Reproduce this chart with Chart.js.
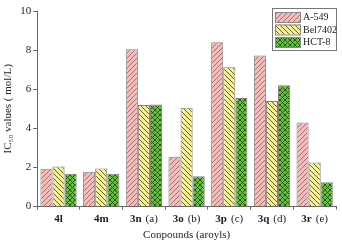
<!DOCTYPE html>
<html><head><meta charset="utf-8">
<script src="https://cdn.jsdelivr.net/npm/chart.js@4/dist/chart.umd.min.js"></script>
<style>html,body{margin:0;padding:0;background:#fff}#wrap{width:342px;height:246px}</style>
</head><body><div id="wrap"><canvas id="c" width="342" height="246"></canvas></div>
<script>
const compoundIds = ['4l','4m','3n','3o','3p','3q','3r'];
const aroylLetters = ['', '', '(a)', '(b)', '(c)', '(d)', '(e)'];
const categories = compoundIds.map((c,i)=> aroylLetters[i] ? c + ' ' + aroylLetters[i] : c);
const seriesNames = ['A-549','Bel7402','HCT-8'];
const a549 = [1.93, 1.78, 8.05, 2.55, 8.4, 7.72, 4.3];
const bel7402 = [2.05, 1.95, 5.2, 5.05, 7.12, 5.4, 2.25];
const hct8 = [1.68, 1.68, 5.22, 1.55, 5.55, 6.2, 1.25];
const yTicks = [0,2,4,6,8,10];

const SERIF = '"Liberation Serif", "Times New Roman", serif';

function makePattern(bg, fg, type){
  const s = 5;
  const c = document.createElement('canvas'); c.width = s; c.height = s;
  const x = c.getContext('2d');
  x.fillStyle = bg; x.fillRect(0,0,s,s);
  x.strokeStyle = fg; x.lineWidth = 0.9;
  const fwd = () => { x.beginPath(); x.moveTo(-1,s+1); x.lineTo(s+1,-1); x.moveTo(-1,1); x.lineTo(1,-1); x.moveTo(s-1,s+1); x.lineTo(s+1,s-1); x.stroke(); };
  const back = () => { x.beginPath(); x.moveTo(-1,-1); x.lineTo(s+1,s+1); x.moveTo(s-1,-1); x.lineTo(s+1,1); x.moveTo(-1,s-1); x.lineTo(1,s+1); x.stroke(); };
  if (type === 'fwd') fwd();
  if (type === 'back') back();
  if (type === 'cross') { fwd(); back(); }
  return x.createPattern(c, 'repeat');
}
const fills = [
  makePattern('#f5bcba', '#96686a', 'fwd'),
  makePattern('#f8f192', '#4f4d3a', 'back'),
  makePattern('#66c23a', '#1f4a14', 'cross')
];
const values = [a549, bel7402, hct8];

const labelPlugin = {
  id: 'xlabels',
  afterDraw(chart){
    const xs = chart.scales.x; const ctx = chart.ctx;
    ctx.save();
    ctx.fillStyle = '#222'; ctx.textBaseline = 'middle';
    const y = xs.top + 13;
    compoundIds.forEach((id, i) => {
      const cx = xs.getPixelForValue(i);
      ctx.font = 'bold 11px ' + SERIF;
      const w1 = ctx.measureText(id).width;
      let w2 = 0, sp = 0;
      if (aroylLetters[i]) { ctx.font = '11px ' + SERIF; sp = 4; w2 = ctx.measureText(aroylLetters[i]).width; }
      let x0 = cx - (w1 + sp + w2)/2;
      ctx.textAlign = 'left';
      ctx.font = 'bold 11px ' + SERIF; ctx.fillText(id, x0, y);
      if (aroylLetters[i]) { ctx.font = '11px ' + SERIF; ctx.fillText(aroylLetters[i], x0 + w1 + sp, y); }
    });
    ctx.restore();
  }
};

const legendPlugin = {
  id: 'boxlegend',
  afterDraw(chart){
    const ctx = chart.ctx;
    const bx = 272, by = 8, bw = 64, bh = 42;
    ctx.save();
    ctx.fillStyle = '#fff'; ctx.fillRect(bx, by, bw, bh);
    ctx.strokeStyle = '#777'; ctx.lineWidth = 1;
    ctx.strokeRect(bx + 0.5, by + 0.5, bw, bh);
    chart.data.datasets.forEach((ds, i) => {
      const ry = by + 4 + i * 12.5;
      ctx.fillStyle = ds.backgroundColor;
      ctx.fillRect(bx + 3, ry, 25, 10);
      ctx.strokeStyle = '#888';
      ctx.strokeRect(bx + 3.5, ry + 0.5, 25, 10);
      ctx.fillStyle = '#222'; ctx.font = '10px ' + SERIF;
      ctx.textBaseline = 'middle'; ctx.textAlign = 'left';
      ctx.fillText(ds.label, bx + 31, ry + 5.5);
    });
    ctx.restore();
  }
};

new Chart(document.getElementById('c'), {
  type: 'bar',
  data: {
    labels: categories,
    datasets: seriesNames.map((n, i) => ({
      label: n,
      data: values[i],
      backgroundColor: fills[i],
      borderColor: '#808080',
      borderWidth: 1,
      categoryPercentage: 0.85,
      barPercentage: 1.0
    }))
  },
  options: {
    responsive: false,
    animation: false,
    devicePixelRatio: 1,
    layout: { padding: { top: 11, right: 6, left: 2, bottom: 4 } },
    plugins: { legend: { display: false }, tooltip: { enabled: false } },
    scales: {
      x: {
        grid: { display: true, drawOnChartArea: false, drawTicks: true, tickLength: 3, color: '#666' },
        border: { color: '#666', width: 1 },
        ticks: { display: true, color: 'rgba(0,0,0,0)', font: { size: 11, family: SERIF }, padding: 3 },
        title: { display: true, text: 'Conpounds (aroyls)', color: '#222', font: { size: 11, family: SERIF }, padding: { top: 0, bottom: 0 } }
      },
      y: {
        min: 0, max: 10,
        afterBuildTicks(scale){ scale.ticks = yTicks.map(v => ({ value: v })); },
        grid: { display: true, drawOnChartArea: false, drawTicks: true, tickLength: 4, color: '#666' },
        border: { color: '#666', width: 1 },
        ticks: { color: '#222', font: { size: 11, family: SERIF }, padding: 2 },
        title: { display: true, text: 'IC₅₀ values ( mol/L)', color: '#222', font: { size: 11, family: SERIF }, padding: { top: 0, bottom: 3 } }
      }
    }
  },
  plugins: [labelPlugin, legendPlugin]
});
</script></body></html>
